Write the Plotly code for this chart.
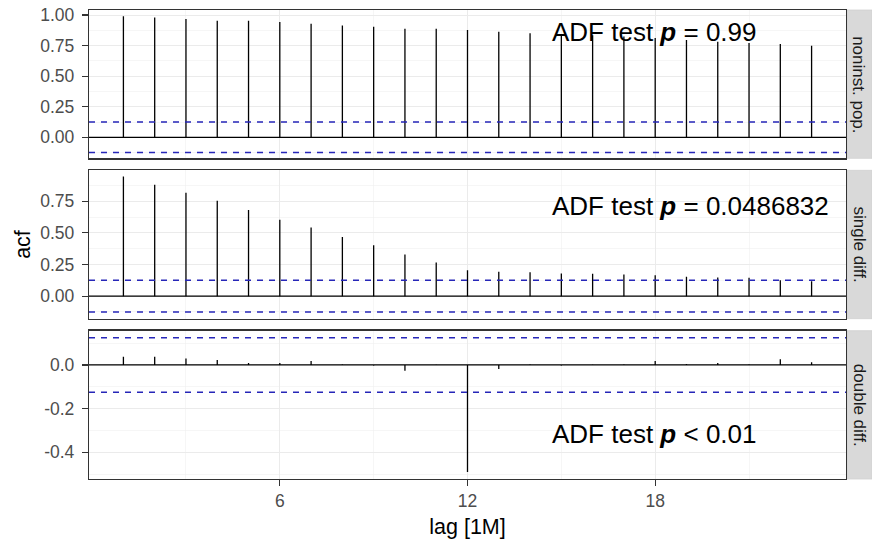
import plotly.graph_objects as go
from plotly.subplots import make_subplots

# ---------------- data ----------------
lags = list(range(1, 24))
acf_noninst = [0.990, 0.980, 0.967, 0.954, 0.953, 0.943, 0.929, 0.915, 0.904, 0.888, 0.887, 0.877,
               0.863, 0.850, 0.842, 0.834, 0.825, 0.812, 0.795, 0.781, 0.772, 0.762, 0.749]
acf_single = [0.947, 0.881, 0.818, 0.755, 0.681, 0.605, 0.542, 0.468, 0.402, 0.329, 0.266, 0.205,
              0.192, 0.190, 0.179, 0.177, 0.171, 0.166, 0.153, 0.147, 0.146, 0.126, 0.118]
acf_double = [0.038, 0.038, 0.030, 0.023, 0.009, 0.009, 0.018, 0.002, -0.002, -0.026, 0.001, -0.490,
              -0.018, 0.002, -0.002, 0.001, 0.002, 0.018, 0.004, 0.009, 0.002, 0.026, 0.012]
ci_bound = 0.125
facet_labels = ["noninst. pop.", "single diff.", "double diff."]
adf_labels = ["ADF test <b><i>p</i></b> = 0.99",
              "ADF test <b><i>p</i></b> = 0.0486832",
              "ADF test <b><i>p</i></b> < 0.01"]
adf_pos = [(14.63, 0.86), (14.63, 0.71), (14.63, -0.318)]
x_tickvals = [6, 12, 18]
x_ticktext = ["6", "12", "18"]
y_ticks = [
    ([0, 0.25, 0.5, 0.75, 1.0], ["0.00", "0.25", "0.50", "0.75", "1.00"]),
    ([0, 0.25, 0.5, 0.75], ["0.00", "0.25", "0.50", "0.75"]),
    ([-0.4, -0.2, 0.0], ["-0.4", "-0.2", "0.0"]),
]
y_minor = [
    [-0.125, 0.125, 0.375, 0.625, 0.875],
    [-0.125, 0.125, 0.375, 0.625, 0.875],
    [-0.5, -0.3, -0.1, 0.1],
]
y_ranges = [[-0.172, 1.041], [-0.178, 0.995], [-0.522, 0.157]]
x_range = [-0.1, 24.1]

series = [acf_noninst, acf_single, acf_double]

FONT = "Liberation Sans, Arial, Helvetica, sans-serif"
W, H = 872, 540
ML, MR, MT, MB = 89, 26, 10, 61
plot_w = W - ML - MR
plot_h = H - MT - MB
gap = 12

fig = make_subplots(rows=3, cols=1, shared_xaxes=True, vertical_spacing=gap / plot_h)

for i, vals in enumerate(series):
    r = i + 1
    xs, ys = [], []
    for lag, v in zip(lags, vals):
        xs += [lag, lag, None]
        ys += [0, v, None]
    fig.add_trace(go.Scatter(x=xs, y=ys, mode="lines",
                             line=dict(color="#000000", width=1.3),
                             showlegend=False, hoverinfo="skip"), row=r, col=1)
    yref = "y" if r == 1 else f"y{r}"
    xref = "x" if r == 1 else f"x{r}"
    # zero line
    fig.add_shape(type="line", xref=f"{xref} domain", yref=yref, x0=0, x1=1, y0=0, y1=0,
                  line=dict(color="#000000", width=1.3))
    # confidence bounds
    for b in (ci_bound, -ci_bound):
        fig.add_shape(type="line", xref=f"{xref} domain", yref=yref, x0=0, x1=1, y0=b, y1=b,
                      line=dict(color="#2626B8", width=1.5, dash="6px,6px"))
    # strip
    fig.add_shape(type="rect", xref="paper", yref=f"{yref} domain",
                  x0=1 + 1.0 / plot_w, x1=1 + MR / plot_w, y0=0, y1=1,
                  fillcolor="#D9D9D9", line=dict(color="#D0D0D0", width=0.8), layer="below")
    fig.add_annotation(xref="paper", yref=f"{yref} domain",
                       x=1 + 13.0 / plot_w, y=0.5, text=facet_labels[i], textangle=90,
                       showarrow=False, xanchor="center", yanchor="middle",
                       font=dict(family=FONT, size=17, color="#1A1A1A"))
    # ADF annotation
    fig.add_annotation(xref=xref, yref=yref, x=adf_pos[i][0], y=adf_pos[i][1],
                       text=adf_labels[i], showarrow=False, xanchor="left", yanchor="middle",
                       font=dict(family=FONT, size=26, color="#000000"))

    tv, tt = y_ticks[i]
    fig.update_yaxes(row=r, col=1, range=y_ranges[i], tickmode="array", tickvals=tv, ticktext=tt,
                     automargin=False, ticklabeloverflow="allow",
                     showgrid=True, gridcolor="#EBEBEB", gridwidth=1,
                     minor=dict(tickmode="array", tickvals=y_minor[i], showgrid=True,
                                gridcolor="#F0F0F0", gridwidth=0.6, ticks=""),
                     zeroline=False, showline=True, mirror=True, linecolor="#333333", linewidth=1.2,
                     ticks="outside", ticklen=6, tickwidth=1.1, tickcolor="#333333",
                     ticklabelstandoff=4,
                     tickfont=dict(family=FONT, size=17.5, color="#4D4D4D"))
    fig.update_xaxes(row=r, col=1, range=x_range, tickmode="array", tickvals=x_tickvals,
                     ticktext=x_ticktext, showticklabels=(r == 3), automargin=False,
                     ticklabeloverflow="allow",
                     showgrid=True, gridcolor="#EBEBEB", gridwidth=1,
                     minor=dict(tickmode="array", tickvals=[3, 9, 15, 21], showgrid=True,
                                gridcolor="#F0F0F0", gridwidth=0.6, ticks=""),
                     zeroline=False, showline=True, mirror=True, linecolor="#333333", linewidth=1.2,
                     ticks="outside" if r == 3 else "", ticklen=6, tickwidth=1.1, tickcolor="#333333",
                     tickfont=dict(family=FONT, size=17.5, color="#4D4D4D"))

fig.update_xaxes(row=3, col=1, title=dict(text="lag [1M]", standoff=8,
                                          font=dict(family=FONT, size=21.5, color="#000000")))
fig.update_yaxes(row=2, col=1, title=dict(text="acf", standoff=3,
                                          font=dict(family=FONT, size=21.5, color="#000000")))

fig.update_layout(width=W, height=H, margin=dict(l=ML, r=MR, t=MT, b=MB, autoexpand=False),
                  paper_bgcolor="white", plot_bgcolor="white", showlegend=False,
                  hovermode=False, font=dict(family=FONT))

# remove the default 8px page margin so the 872x540 figure fills the window exactly
fig.write_html("out.html",
               config={"displayModeBar": False, "staticPlot": True},
               post_script="document.body.style.margin='0px';document.body.style.overflow='hidden';")
